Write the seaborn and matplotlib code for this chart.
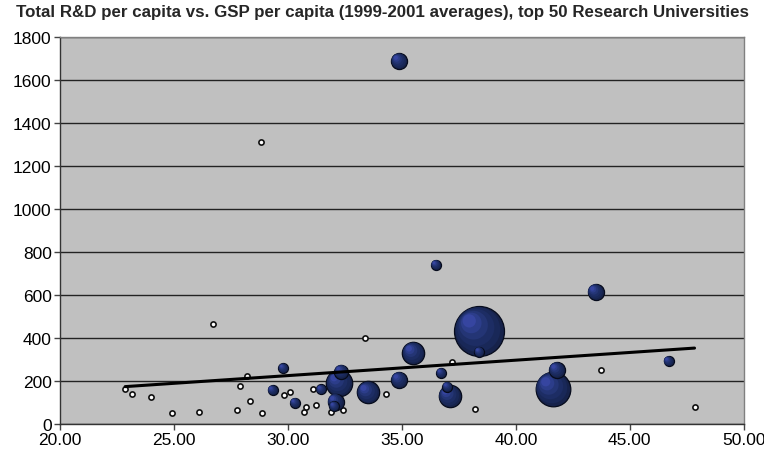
import numpy as np
import pandas as pd
import matplotlib
matplotlib.use('Agg')
import matplotlib.pyplot as plt
import matplotlib.transforms as mtransforms
import seaborn as sns

# GSP per capita (thousand $), total R&D per capita ($), bubble size (0 = no bubble drawn, hollow marker)
gsp = [22.86, 23.17, 23.98, 24.93, 26.12, 26.72, 27.77, 27.90, 28.19, 28.35,
       28.83, 28.86, 29.33, 29.80, 29.83, 30.10, 30.31, 30.70, 30.80, 31.12,
       31.24, 31.46, 31.90, 32.03, 32.09, 32.26, 32.34, 32.41, 33.37, 33.52,
       34.29, 34.88, 34.88, 35.51, 36.50, 36.73, 37.00, 37.10, 37.20, 37.40,
       38.20, 38.40, 38.40, 41.62, 41.80, 43.50, 43.73, 46.70, 47.84]
rnd = [160, 141, 124, 51, 56, 465, 65, 174, 223, 105,
       1310, 51, 157, 259, 133, 147, 98, 56, 79, 164,
       88, 160, 56, 82, 104, 189, 243, 65, 401, 146,
       138, 205, 1688, 329, 740, 237, 173, 129, 290, 143,
       70, 432, 335, 163, 251, 614, 250, 292, 79]
bubble = [0, 0, 0, 0, 0, 0, 0, 0, 0, 0,
          0, 0, 1, 1, 0, 0, 1, 0, 0, 0,
          0, 1, 0, 1, 2.6, 7, 2, 0, 0, 5,
          0, 2.6, 2.6, 5, 1, 1, 1, 5, 0, 0,
          0, 25, 1, 12, 2.6, 2.6, 0, 1, 0]

df = pd.DataFrame({'gsp': gsp, 'rnd': rnd, 'size': bubble})
big = df[df['size'] > 0].sort_values('size', ascending=False, kind='stable')
small = df[df['size'] == 0]

sns.set_style('white')
plt.rcParams['font.family'] = ['Liberation Sans Narrow', 'Liberation Sans', 'DejaVu Sans']

fig = plt.figure(figsize=(7.64, 4.52), dpi=100)
ax = fig.add_axes([0.0785, 0.060, 0.895, 0.856])
ax.set_facecolor('#c0c0c0')

# gridlines
ax.set_axisbelow(True)
ax.yaxis.grid(True, color='#222222', linewidth=1.0)
ax.xaxis.grid(False)

# hollow markers for states without a bubble
sns.scatterplot(data=small, x='gsp', y='rnd', ax=ax, s=14, color='white',
                edgecolor='#111111', linewidth=1.2, legend=False, zorder=3)

# shaded bubbles, area proportional to size; layered for a gradient with an upper-left highlight
smax = 1296
layers = [(1.00, '#16224a'),
          (0.80, '#192858'),
          (0.55, '#1d2d64'),
          (0.33, '#243575'),
          (0.17, '#2c3d8a'),
          (0.07, '#3645a0')]
z = 4.0
for _, row in big.iterrows():
    s_full = smax * row['size'] / 25
    r_full = np.sqrt(s_full) / 2
    one = big.loc[[_]]
    for j, (f, fc) in enumerate(layers):
        s = s_full * f
        edge = '#060b1c' if j == 0 else 'none'
        sns.scatterplot(data=one, x='gsp', y='rnd', ax=ax, s=s, color=fc,
                        edgecolor=edge, linewidth=0.9 if j == 0 else 0,
                        legend=False, zorder=z)
        if j > 0:
            d = (r_full - np.sqrt(s) / 2) * 0.55
            coll = ax.collections[-1]
            coll.set_offset_transform(ax.transData + mtransforms.ScaledTranslation(
                -d / 72, d / 72, fig.dpi_scale_trans))
        z += 0.01

# linear trend line
k, b = np.polyfit(df['gsp'], df['rnd'], 1)
xs = np.array([df['gsp'].min(), df['gsp'].max()])
sns.lineplot(x=xs, y=k * xs + b, ax=ax, color='black', linewidth=2.2, zorder=12)

ax.set_xlim(20, 50)
ax.set_ylim(0, 1800)
ax.set_xticks(np.arange(20, 50.1, 5))
ax.set_xticklabels([f'{v:.2f}' for v in np.arange(20, 50.1, 5)])
ax.set_yticks(np.arange(0, 1801, 200))
ax.tick_params(axis='both', labelsize=12.5, length=4, width=1, color='#444444',
               direction='out', pad=2, labelcolor='black')
ax.tick_params(axis='x', bottom=True)
ax.tick_params(axis='y', left=True)
ax.set_xlabel('')
ax.set_ylabel('')
for side in ['top', 'right']:
    ax.spines[side].set_color('#808080')
    ax.spines[side].set_linewidth(1)
for side in ['left', 'bottom']:
    ax.spines[side].set_color('#333333')
    ax.spines[side].set_linewidth(1)

fig.suptitle('Total R&D per capita vs. GSP per capita (1999-2001 averages), top 50 Research Universities',
             x=0.5, y=0.99, fontsize=12.2, fontweight='bold')

fig.savefig('out.png', dpi=100)
